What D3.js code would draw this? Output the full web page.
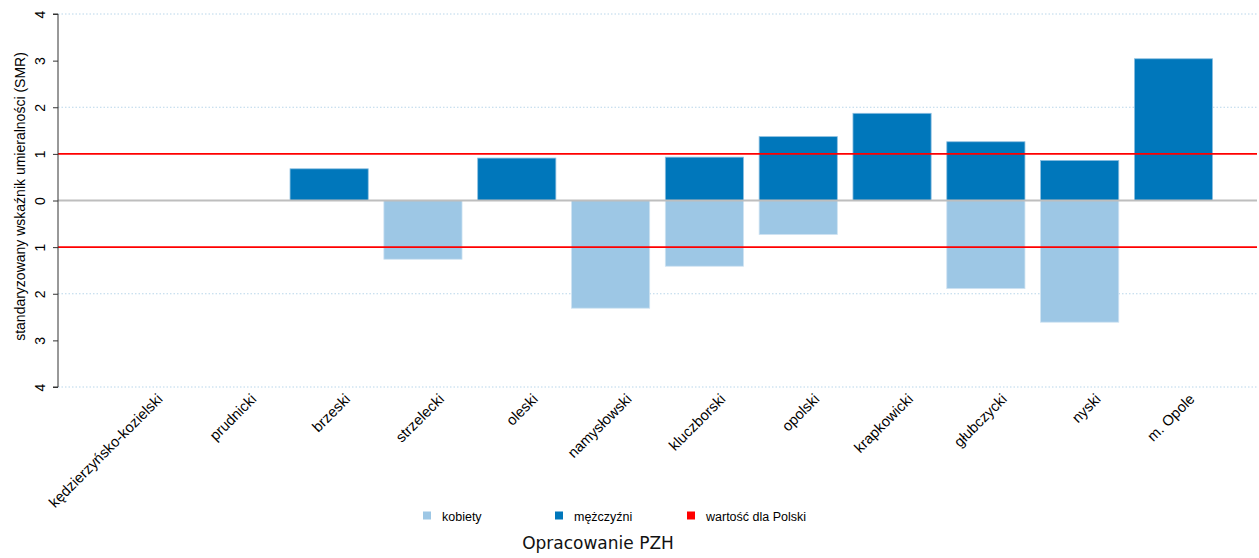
<!DOCTYPE html>
<html>
<head>
<meta charset="utf-8">
<script src="https://cdn.jsdelivr.net/npm/d3@7"></script>
<style>
  html, body { margin: 0; padding: 0; background: #fff; }
  svg { display: block; }
</style>
</head>
<body>
<svg id="chart" width="1259" height="558"></svg>
<script>
// Powiaty województwa opolskiego
const categories = ["kędzierzyńsko-kozielski", "prudnicki", "brzeski", "strzelecki", "oleski",
  "namysłowski", "kluczborski", "opolski", "krapkowicki", "głubczycki", "nyski", "m. Opole"];
// SMR – mężczyźni (wartości dodatnie, w górę)
const menValues = [null, null, 0.68, null, 0.91, null, 0.93, 1.37, 1.87, 1.26, 0.86, 3.04];
// SMR – kobiety (rysowane w dół od zera)
const womenValues = [null, null, null, 1.26, null, 2.31, 1.41, 0.73, null, 1.89, 2.61, null];
const yTicks = [-4, -3, -2, -1, 0, 1, 2, 3, 4];
const gridValues = [-4, -2, 2, 4];
const refValues = [-1, 1];
const legendLabels = ["kobiety", "mężczyźni", "wartość dla Polski"];

const colWomen = "#9dc7e5", colMen = "#0077bb", colRef = "#ff0000";

const svg = d3.select("#chart");
const plotLeft = 58, plotRight = 1257, plotTop = 14, plotBottom = 387;

// bar slots in barplot units: bar i spans [0.2 + 1.2i, 1.2 + 1.2i]
const n = categories.length;
const x = d3.scaleLinear().domain([-0.368, 1.2 * n + 0.568]).range([plotLeft, plotRight]);
const y = d3.scaleLinear().domain([-4, 4]).range([plotBottom, plotTop]);
const barL = i => x(0.2 + 1.2 * i), barR = i => x(1.2 + 1.2 * i), barC = i => x(0.7 + 1.2 * i);

// dotted grid
svg.append("g").selectAll("line").data(gridValues).join("line")
  .attr("x1", plotLeft).attr("x2", plotRight)
  .attr("y1", d => y(d)).attr("y2", d => y(d))
  .attr("stroke", "#b9d6ea").attr("stroke-width", 1).attr("stroke-dasharray", "1.5,2");

// bars
const bars = svg.append("g");
bars.selectAll("rect.men").data(menValues.map((v, i) => ({ v, i })).filter(d => d.v != null)).join("rect")
  .attr("class", "men")
  .attr("x", d => barL(d.i)).attr("width", d => barR(d.i) - barL(d.i))
  .attr("y", d => y(d.v)).attr("height", d => y(0) - y(d.v))
  .attr("fill", colMen).attr("stroke", "#8cbfe0").attr("stroke-width", 0.8);
bars.selectAll("rect.women").data(womenValues.map((v, i) => ({ v, i })).filter(d => d.v != null)).join("rect")
  .attr("class", "women")
  .attr("x", d => barL(d.i)).attr("width", d => barR(d.i) - barL(d.i))
  .attr("y", y(0)).attr("height", d => y(-d.v) - y(0))
  .attr("fill", colWomen).attr("stroke", "#cfe3f2").attr("stroke-width", 0.8);

// zero line
svg.append("line").attr("x1", plotLeft).attr("x2", plotRight).attr("y1", y(0)).attr("y2", y(0))
  .attr("stroke", "#bebebe").attr("stroke-width", 2);

// national reference lines
svg.append("g").selectAll("line").data(refValues).join("line")
  .attr("x1", plotLeft).attr("x2", plotRight)
  .attr("y1", d => y(d)).attr("y2", d => y(d))
  .attr("stroke", colRef).attr("stroke-width", 1.6);

// y axis
const yAxis = svg.append("g").attr("transform", `translate(${plotLeft},0)`)
  .call(d3.axisLeft(y).tickValues(yTicks).tickSize(5).tickFormat(d => Math.abs(d)));
yAxis.select(".domain").attr("stroke", "#333").attr("d", `M-5,${y(4)}H0V${y(-4)}H-5`);
yAxis.selectAll(".tick line").attr("stroke", "#333");
yAxis.selectAll(".tick text")
  .attr("font-family", "Liberation Sans, Arial, sans-serif").attr("font-size", 14).attr("fill", "#000")
  .attr("x", 0).attr("y", 0).attr("dy", "0.36em")
  .attr("text-anchor", "middle")
  .attr("transform", "translate(-18,0) rotate(-90)");

svg.append("text")
  .attr("transform", `translate(25,196.5) rotate(-90)`)
  .attr("text-anchor", "middle")
  .attr("font-family", "Liberation Sans, Arial, sans-serif").attr("font-size", 14)
  .text("standaryzowany wskaźnik umieralności (SMR)");

// category labels, rotated 45°
svg.append("g").selectAll("text").data(categories).join("text")
  .attr("transform", (d, i) => `translate(${barC(i) + 22},${400}) rotate(-45)`)
  .attr("text-anchor", "end")
  .attr("font-family", "Liberation Sans, Arial, sans-serif").attr("font-size", 14.7)
  .text(d => d);

// legend
const legendX = [423, 555, 687];
const legendCols = [colWomen, colMen, colRef];
const lg = svg.append("g");
lg.selectAll("rect").data(legendLabels).join("rect")
  .attr("x", (d, i) => legendX[i]).attr("y", 511.5).attr("width", 8).attr("height", 8)
  .attr("fill", (d, i) => legendCols[i]);
lg.selectAll("text").data(legendLabels).join("text")
  .attr("x", (d, i) => legendX[i] + 19).attr("y", 520.5)
  .attr("font-family", "Liberation Sans, Arial, sans-serif").attr("font-size", 12.5)
  .text(d => d);

svg.append("text").attr("x", 598).attr("y", 549).attr("text-anchor", "middle")
  .attr("font-family", "DejaVu Sans, sans-serif").attr("font-size", 17).attr("fill", "#111")
  .text("Opracowanie PZH");
</script>
</body>
</html>
